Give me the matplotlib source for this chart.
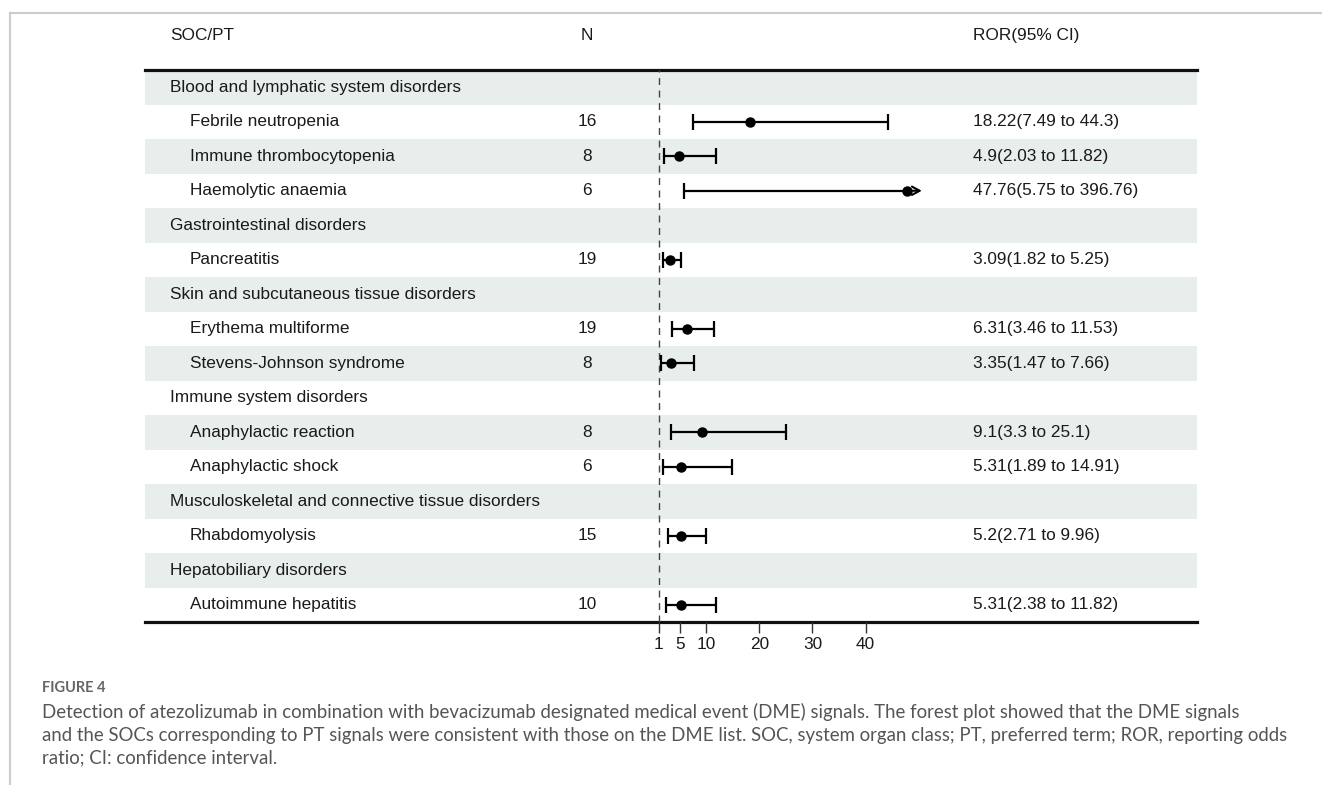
import matplotlib
matplotlib.use("Agg")
import matplotlib.pyplot as plt
from matplotlib.lines import Line2D

plt.rcParams["font.family"] = ["Liberation Sans", "DejaVu Sans"]

# ------------------------------------------------------------------
# Data
# ------------------------------------------------------------------
labels = [
    "Blood and lymphatic system disorders",
    "Febrile neutropenia",
    "Immune thrombocytopenia",
    "Haemolytic anaemia",
    "Gastrointestinal disorders",
    "Pancreatitis",
    "Skin and subcutaneous tissue disorders",
    "Erythema multiforme",
    "Stevens-Johnson syndrome",
    "Immune system disorders",
    "Anaphylactic reaction",
    "Anaphylactic shock",
    "Musculoskeletal and connective tissue disorders",
    "Rhabdomyolysis",
    "Hepatobiliary disorders",
    "Autoimmune hepatitis",
]
is_soc = [True, False, False, False, True, False, True, False, False,
          True, False, False, True, False, True, False]
counts = ["", "16", "8", "6", "", "19", "", "19", "8", "", "8", "6", "", "15", "", "10"]
ror = [None, 18.22, 4.9, 47.76, None, 3.09, None, 6.31, 3.35,
       None, 9.1, 5.31, None, 5.2, None, 5.31]
ci_low = [None, 7.49, 2.03, 5.75, None, 1.82, None, 3.46, 1.47,
          None, 3.3, 1.89, None, 2.71, None, 2.38]
ci_high = [None, 44.3, 11.82, 396.76, None, 5.25, None, 11.53, 7.66,
           None, 25.1, 14.91, None, 9.96, None, 11.82]
xticks = [1, 5, 10, 20, 30, 40]
x_clip = 50.6  # CI beyond this is drawn as an arrow

caption_head = "FIGURE 4"
caption_lines = [
    "Detection of atezolizumab in combination with bevacizumab designated medical event (DME) signals. The forest plot showed that the DME signals",
    "and the SOCs corresponding to PT signals were consistent with those on the DME list. SOC, system organ class; PT, preferred term; ROR, reporting odds",
    "ratio; CI: confidence interval.",
]

# ------------------------------------------------------------------
# Layout (pixels of a 1322x785 canvas)
# ------------------------------------------------------------------
W, H = 1322, 785
TAB_L, TAB_R, TAB_T, TAB_B = 145, 1197, 70, 622
X_SOC, X_PT, X_N, X_ROR = 170, 190, 587, 973
FOREST_L, FOREST_R = 640, 940
FOREST_XLIM = (-2.49, 54.03)
SHADE = "#e8eeec"
INK = "#1a1a1a"
FS = 12.4

fig = plt.figure(figsize=(W / 100, H / 100), dpi=100)


def fx(px):
    return px / W


def fy(py):
    return 1 - py / H


n = len(labels)
ax = fig.add_axes([fx(TAB_L), fy(TAB_B), fx(TAB_R - TAB_L), fy(TAB_T) - fy(TAB_B)])
ax.set_xlim(TAB_L, TAB_R)
ax.set_ylim(n - 0.5, -0.5)
ax.axis("off")

for i in range(n):
    if i % 2 == 0:
        ax.axhspan(i - 0.5, i + 0.5, color=SHADE, lw=0, zorder=0)
    x = X_SOC if is_soc[i] else X_PT
    ax.text(x, i, labels[i], ha="left", va="center", fontsize=FS, color=INK)
    if counts[i]:
        ax.text(X_N, i, counts[i], ha="center", va="center", fontsize=FS, color=INK)
    if ror[i] is not None:
        ax.text(X_ROR, i, f"{ror[i]}({ci_low[i]} to {ci_high[i]})",
                ha="left", va="center", fontsize=FS, color=INK)

# header
ax.text(X_SOC, -1.5, "SOC/PT", ha="left", va="center", fontsize=FS, color=INK, clip_on=False)
ax.text(X_N, -1.5, "N", ha="center", va="center", fontsize=FS, color=INK, clip_on=False)
ax.text(X_ROR, -1.5, "ROR(95% CI)", ha="left", va="center", fontsize=FS, color=INK, clip_on=False)
ax.axhline(-0.5, color="#111111", lw=2.3, zorder=5, clip_on=False)
ax.axhline(n - 0.5, color="#111111", lw=2.3, zorder=5, clip_on=False)

# forest panel
fa = fig.add_axes([fx(FOREST_L), fy(TAB_B), fx(FOREST_R - FOREST_L), fy(TAB_T) - fy(TAB_B)])
fa.patch.set_alpha(0)
fa.set_xlim(*FOREST_XLIM)
fa.set_ylim(n - 0.5, -0.5)
for s in fa.spines.values():
    s.set_visible(False)
fa.set_yticks([])
fa.set_xticks(xticks)
fa.set_xticklabels([str(t) for t in xticks])
fa.tick_params(axis="x", direction="out", length=8, width=1.0, color="#333333",
               labelsize=FS, labelcolor=INK, pad=3)

fa.axvline(1, color="#444444", lw=1.0, linestyle=(0, (5, 4)), zorder=2)

for i in range(n):
    if ror[i] is None:
        continue
    lo, hi, est = ci_low[i], ci_high[i], ror[i]
    if hi > x_clip:
        fa.hlines(i, lo, est, color="black", lw=1.6, zorder=3)
        fa.annotate("", xy=(x_clip, i), xytext=(est, i),
                    arrowprops=dict(arrowstyle="->,head_length=0.55,head_width=0.3",
                                    color="black", lw=1.5, shrinkA=0, shrinkB=0),
                    zorder=3)
        fa.plot([lo], [i], marker="|", ms=11, mew=1.6, color="black", zorder=3)
    else:
        fa.hlines(i, lo, hi, color="black", lw=1.6, zorder=3)
        fa.plot([lo, hi], [i, i], marker="|", ms=11, mew=1.6, color="black",
                linestyle="none", zorder=3)
    fa.plot([est], [i], marker="o", ms=6.5, color="black", zorder=4)

# outer frame lines of the page
fig.add_artist(Line2D([fx(10), 1], [fy(13), fy(13)], color="#cccccc", lw=1.5))
fig.add_artist(Line2D([fx(10), fx(10)], [fy(13), 0], color="#cccccc", lw=1.5))

# caption
fig.text(fx(42), fy(688), caption_head, ha="left", va="center", fontsize=10.5,
         fontweight="bold", color="#666666", family=["Lato", "DejaVu Sans"])
for k, line in enumerate(caption_lines):
    fig.text(fx(42), fy(712 + 23 * k), line, ha="left", va="center", fontsize=13.4,
             color="#555555", family=["Lato", "DejaVu Sans"])

fig.savefig("out.png", dpi=100)
